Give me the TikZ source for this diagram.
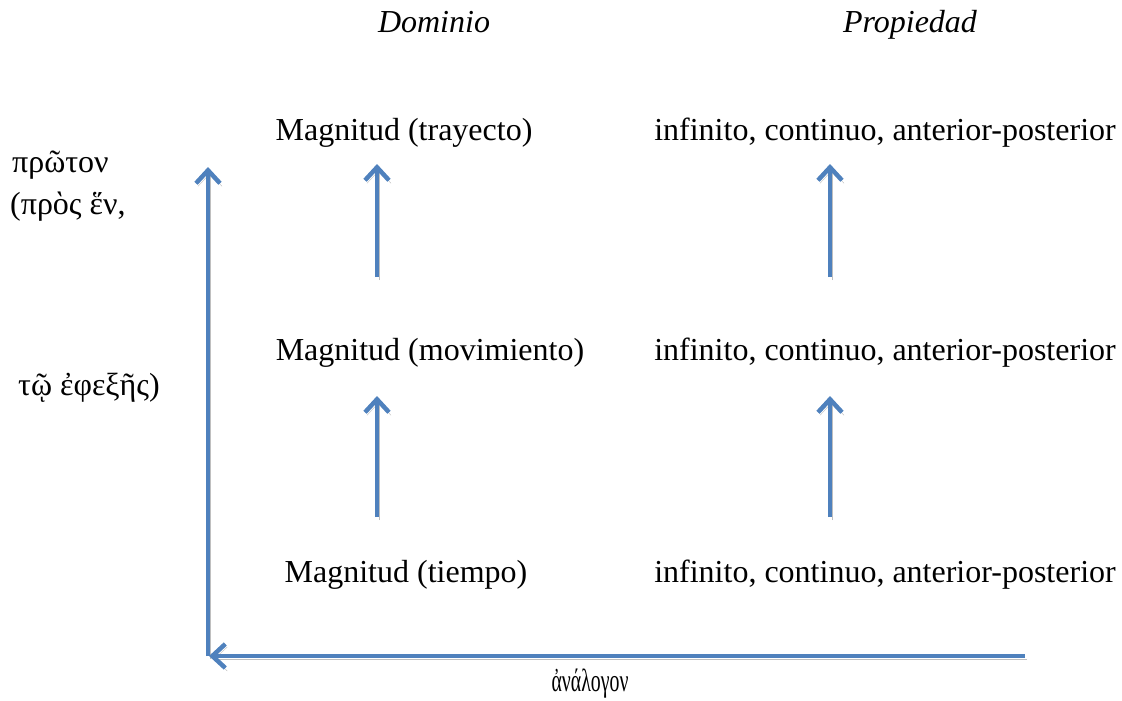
\documentclass[tikz,border=0pt]{standalone}
\usepackage{fontspec}
\setmainfont{Liberation Serif}
\usepackage{tikz}
\usetikzlibrary{arrows.meta}

\definecolor{arrowblue}{HTML}{4F81BD}
\tikzset{
  txt/.style={font=\fontsize{32}{38}\selectfont, inner sep=0pt},
  head/.style={txt, font=\fontsize{32}{38}\selectfont\itshape, anchor=base},
  greek/.style={txt, anchor=west},
  bluearrow/.style={draw=arrowblue, line width=4.5pt,
    -{Straight Barb[length=13pt,width=24pt]},
    preaction={draw=black!25, transform canvas={shift={(2pt,-3pt)}}}}
}

\begin{document}
\begin{tikzpicture}[x=1pt,y=-1pt]
\useasboundingbox (0,0) rectangle (1122,701);
%\draw[help lines,step=50] (0,0) grid (1122,701);

\node (dom) at (434,33) [head] {Dominio};
\node (prop) at (910,33) [head] {Propiedad};

\node (tray) at (404,133) [txt] {Magnitud (trayecto)};
\node (mov) at (430,353) [txt] {Magnitud (movimiento)};
\node (tiem) at (406,575) [txt] {Magnitud (tiempo)};
\node (p1) at (885,133) [txt] {infinito, continuo, anterior-posterior};
\node (p2) at (885,353) [txt] {infinito, continuo, anterior-posterior};
\node (p3) at (885,575) [txt] {infinito, continuo, anterior-posterior};

\node (g1) at (12,165) [greek] {πρῶτον};
\node (g2) at (10,207) [greek] {(πρὸς ἕν,};
\node (g3) at (18,388) [greek] {τῷ ἐφεξῆς)};
\node (ana) at (590,684) [txt] {\scalebox{0.62}[1]{ἀνάλογον}};

% small arrows
\coordinate (a1s) at (377,277); \coordinate (a1e) at (377,164);
\coordinate (a2s) at (377,517); \coordinate (a2e) at (377,396);
\coordinate (b1s) at (830,277); \coordinate (b1e) at (830,164);
\coordinate (b2s) at (830,517); \coordinate (b2e) at (830,396);
\draw [bluearrow] (a1s) -- (a1e);
\draw [bluearrow] (a2s) -- (a2e);
\draw [bluearrow] (b1s) -- (b1e);
\draw [bluearrow] (b2s) -- (b2e);

% axes
\coordinate (corner) at (208,656);
\coordinate (top) at (208,167);
\coordinate (right) at (1025,656);
\coordinate (left) at (209,656);
\draw [bluearrow] (corner) -- (top);
\draw [bluearrow] (right) -- (left);
\end{tikzpicture}
\end{document}
